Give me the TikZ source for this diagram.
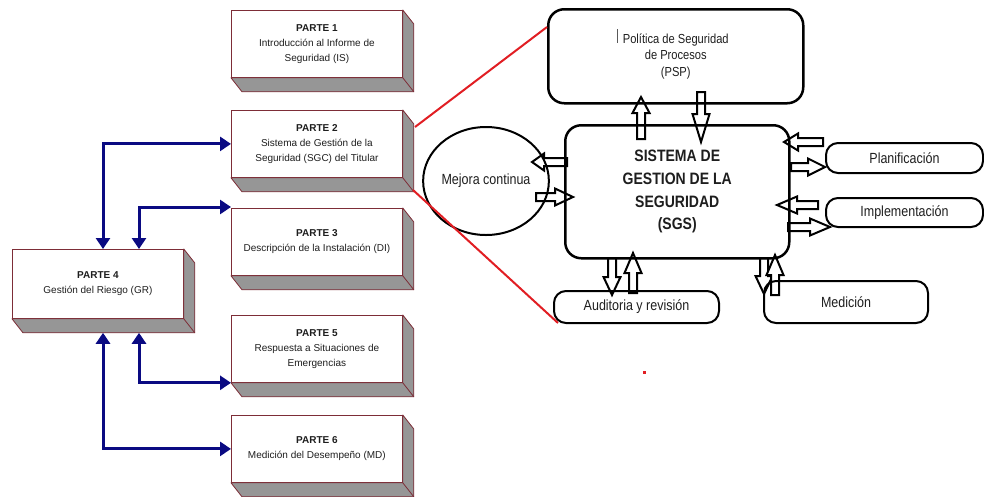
\documentclass[tikz,border=0pt]{standalone}
\usepackage{fontspec}
\setmainfont{Liberation Sans}
\newfontfamily\condfont[FakeStretch=0.85]{Liberation Sans}
\usetikzlibrary{arrows.meta,calc,shapes.geometric}
\definecolor{boxred}{RGB}{125,45,55}
\definecolor{extgray}{RGB}{150,150,150}
\definecolor{navyb}{RGB}{10,10,130}
\definecolor{linered}{RGB}{225,30,35}
\definecolor{txt}{RGB}{30,30,30}

\newcommand{\blockarr}[3]{% start, end, head length
  \path let \p1=($(#2)-(#1)$) in \pgfextra{\pgfmathsetmacro\bkAlen{veclen(\x1,\y1)}\pgfmathsetmacro\bkAang{atan2(\y1,\x1)}\global\let\bkLen\bkAlen\global\let\bkAng\bkAang};
  \begin{scope}[shift={(#1)},rotate=\bkAng]
    \draw[blk] (0pt,-4pt) -- ({(\bkLen-#3)*1pt},-4pt) -- ({(\bkLen-#3)*1pt},-8.5pt) -- ({\bkLen*1pt},0pt) -- ({(\bkLen-#3)*1pt},8.5pt) -- ({(\bkLen-#3)*1pt},4pt) -- (0pt,4pt) -- cycle;
  \end{scope}}

\begin{document}
\begin{tikzpicture}[x=1pt,y=-1pt,
  partbox/.style={draw=boxred, line width=0.8pt, fill=white, minimum width=171pt, minimum height=67pt, anchor=north west, align=center, inner sep=0pt, text=txt, font=\fontsize{10}{15}\selectfont},
  extr/.style={fill=extgray, draw=boxred, line width=0.8pt, line join=round},
  bconn/.style={draw=navyb, line width=3pt, {Triangle[length=11pt,width=14pt]}-{Triangle[length=11pt,width=14pt]}},
  blk/.style={draw=black, fill=white, line width=2pt, line join=miter},
  rbox/.style={draw=black, line width=2.5pt, rounded corners=16pt, align=center, inner sep=0pt, text=txt},
  sbox/.style={draw=black, line width=2pt, rounded corners=12pt, align=center, inner sep=0pt, text=txt, font=\condfont\fontsize{14.7}{17}\selectfont},
  redl/.style={draw=linered, line width=2pt}]
\useasboundingbox (0,0) rectangle (984,496);

% ---------- left: PARTE boxes ----------
\node[partbox] (p1) at (231,10) {\textbf{PARTE 1}\\Introducción al Informe de\\Seguridad (IS)};
\node[partbox] (p2) at (231,110) {\textbf{PARTE 2}\\Sistema de Gestión de la\\Seguridad (SGC) del Titular};
\node[partbox] (p3) at (231,208) {\textbf{PARTE 3}\\Descripción de la Instalación (DI)};
\node[partbox, minimum height=69pt] (p4) at (12,249) {\textbf{PARTE 4}\\Gestión del Riesgo (GR)};
\node[partbox] (p5) at (231,315) {\textbf{PARTE 5}\\Respuesta a Situaciones de\\Emergencias};
\node[partbox] (p6) at (231,415) {\textbf{PARTE 6}\\Medición del Desempeño (MD)};

\foreach \b in {p1,p2,p3,p4,p5,p6}{
  \filldraw[extr] (\b.north east) -- ($(\b.north east)+(11,14)$) -- ($(\b.south east)+(11,14)$) -- ($(\b.south west)+(11,14)$) -- (\b.south west) -- (\b.south east) -- cycle;
  \draw[boxred, line width=0.8pt] (\b.south east) -- ($(\b.south east)+(11,14)$);
}

% ---------- blue connectors ----------
\draw[bconn] ($(p4.north west)+(91,0)$) |- (p2.west);
\draw[bconn] ($(p4.north west)+(127,0)$) |- ($(p3.north west)+(0,-1)$);
\draw[bconn] ($(p4.south west)+(127,14)$) |- (p5.south west);
\draw[bconn] ($(p4.south west)+(91,14)$) |- (p6.west);

% ---------- block arrow end points ----------
\coordinate (a1s) at (641,139); \coordinate (a1e) at (641,97);
\coordinate (a2s) at (701,92);  \coordinate (a2e) at (701,142);
\coordinate (a3s) at (567,162); \coordinate (a3e) at (532,162);
\coordinate (a4s) at (536,197); \coordinate (a4e) at (573,197);
\coordinate (a5s) at (823,142); \coordinate (a5e) at (784,142);
\coordinate (a6s) at (791,167); \coordinate (a6e) at (825,167);
\coordinate (a7s) at (818,205); \coordinate (a7e) at (777,205);
\coordinate (a8s) at (788,227); \coordinate (a8e) at (830,227);
\coordinate (a9s) at (612,258); \coordinate (a9e) at (612,295);
\coordinate (a10s) at (633,293); \coordinate (a10e) at (633,253);
\coordinate (a11s) at (764,258); \coordinate (a11e) at (764,294);
\coordinate (a12s) at (775,295); \coordinate (a12e) at (775,255);

\blockarr{a1s}{a1e}{16}
\blockarr{a2s}{a2e}{28}
\blockarr{a3s}{a3e}{12}
\blockarr{a4s}{a4e}{18}
\blockarr{a5s}{a5e}{14}
\blockarr{a6s}{a6e}{17}
\blockarr{a7s}{a7e}{20}
\blockarr{a8s}{a8e}{20}
\blockarr{a9s}{a9e}{18}
\blockarr{a10s}{a10e}{20}
\blockarr{a11s}{a11e}{18}
\blockarr{a12s}{a12e}{20}

% ---------- right: nodes ----------
\node[rbox, minimum width=255pt, minimum height=94pt, anchor=north west,
      font=\condfont\fontsize{13.1}{16.5}\selectfont] (psp) at (547,8)
      {Política de Seguridad\\de Procesos\\(PSP)};
\node[rbox, minimum width=224pt, minimum height=133pt, anchor=north west,
      font=\condfont\bfseries\fontsize{16.5}{22.6}\selectfont] (sgs) at (564,124)
      {SISTEMA DE\\GESTION DE LA\\SEGURIDAD\\(SGS)};
\node[ellipse, draw=black, line width=2pt, minimum width=120pt, minimum height=108pt, inner sep=0pt, text=txt,
      font=\condfont\fontsize{14.7}{17}\selectfont] (mej) at (486,181) {Mejora continua};
\node[sbox, minimum width=157pt, minimum height=30pt, anchor=north west] (plan) at (825,142) {Planificación};
\node[sbox, minimum width=157pt, minimum height=29pt, anchor=north west] (impl) at (825,197) {Implementación};
\node[sbox, minimum width=164pt, minimum height=42pt, anchor=north west] (med) at (763,280) {Medición};
\node[sbox, minimum width=165pt, minimum height=32pt, anchor=north west] (aud) at (553,290) {Auditoria y revisión};

% text cursor mark
\draw[gray!70!black, line width=0.6pt] (617,29) -- (617,43);

% ---------- red lines ----------
\coordinate (r1) at (415,127);
\coordinate (r2) at (413,190);
\draw[redl] (r1) -- ($(psp.north west)+(0,19)$);
\draw[redl] (r2) -- ($(aud.south west)+(5,-1)$);

% red dot
\fill[linered] (643,371) rectangle (646,374);
\end{tikzpicture}
\end{document}
